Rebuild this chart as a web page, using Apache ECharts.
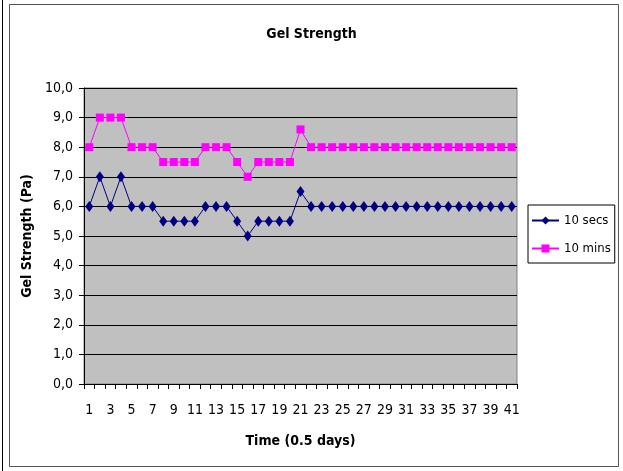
<!DOCTYPE html>
<html>
<head>
<meta charset="utf-8">
<script src="https://cdn.jsdelivr.net/npm/echarts@6/dist/echarts.min.js"></script>
<style>
  html, body { margin: 0; padding: 0; background: #fff; }
  #chart { width: 623px; height: 471px; }
</style>
</head>
<body>
<div id="chart"></div>
<script>
// Sample index (each step = 0.5 days)
const timeSteps = Array.from({ length: 41 }, (_, i) => String(i + 1));

// Gel strength readings (Pa)
const secs10 = [6, 7, 6, 7, 6, 6, 6, 5.5, 5.5, 5.5, 5.5, 6, 6, 6, 5.5, 5, 5.5, 5.5, 5.5, 5.5, 6.5,
  6, 6, 6, 6, 6, 6, 6, 6, 6, 6, 6, 6, 6, 6, 6, 6, 6, 6, 6, 6];
const mins10 = [8, 9, 9, 9, 8, 8, 8, 7.5, 7.5, 7.5, 7.5, 8, 8, 8, 7.5, 7, 7.5, 7.5, 7.5, 7.5, 8.6,
  8, 8, 8, 8, 8, 8, 8, 8, 8, 8, 8, 8, 8, 8, 8, 8, 8, 8, 8, 8];

const font = '"DejaVu Sans Condensed", "Liberation Sans Narrow", Arial, sans-serif';
const boldFont = '"DejaVu Sans Condensed", "Liberation Sans", Arial, sans-serif';

const chart = echarts.init(document.getElementById('chart'), null, { renderer: 'canvas' });
chart.setOption({
  backgroundColor: '#ffffff',
  animation: false,
  title: {
    text: 'Gel Strength',
    left: 'center',
    top: 22,
    textStyle: { fontFamily: boldFont, fontSize: 14, fontWeight: 'bold', color: '#000' }
  },
  graphic: [
    { type: 'rect', shape: { x: 9.5, y: 4.5, width: 609, height: 462 }, style: { fill: 'none', stroke: '#555', lineWidth: 1 }, silent: true },
    { type: 'line', shape: { x1: 2.5, y1: 0, x2: 2.5, y2: 471 }, style: { stroke: '#000', lineWidth: 1 }, silent: true }
  ],
  legend: {
    orient: 'vertical',
    left: 528,
    top: 205,
    itemWidth: 27,
    itemHeight: 10,
    itemGap: 15,
    padding: [9, 4, 8, 3],
    backgroundColor: '#fff',
    borderColor: '#000',
    borderWidth: 1,
    borderRadius: 0,
    textStyle: { fontFamily: font, fontSize: 13, color: '#000' },
    data: ['10 secs', '10 mins']
  },
  grid: { left: 84, top: 88, width: 433, height: 296, containLabel: false, show: true, backgroundColor: '#c0c0c0', borderColor: '#808080', borderWidth: 1 },
  xAxis: {
    type: 'category',
    data: timeSteps,
    boundaryGap: true,
    name: 'Time (0.5 days)',
    nameLocation: 'middle',
    nameGap: 50,
    nameTextStyle: { fontFamily: boldFont, fontSize: 14, fontWeight: 'bold', color: '#000' },
    axisLine: { lineStyle: { color: '#000', width: 1 } },
    axisTick: { show: true, alignWithLabel: false, interval: 0, length: 5, lineStyle: { color: '#000' } },
    axisLabel: { interval: 1, fontFamily: font, fontSize: 14, color: '#000', margin: 19 },
    splitLine: { show: false }
  },
  yAxis: {
    type: 'value',
    min: 0,
    max: 10,
    interval: 1,
    name: 'Gel Strength (Pa)',
    nameLocation: 'middle',
    nameGap: 46,
    nameTextStyle: { fontFamily: boldFont, fontSize: 14, fontWeight: 'bold', color: '#000' },
    axisLine: { show: true, lineStyle: { color: '#000', width: 1 } },
    axisTick: { show: true, length: 5, lineStyle: { color: '#000' } },
    axisLabel: {
      fontFamily: font, fontSize: 14, color: '#000', margin: 11,
      formatter: v => v.toFixed(1).replace('.', ',')
    },
    splitLine: { show: true, lineStyle: { color: '#000', width: 1 } }
  },
  series: [
    {
      name: '10 secs',
      type: 'line',
      data: secs10,
      symbol: 'diamond',
      symbolSize: [8, 11],
      showAllSymbol: true,
      itemStyle: { color: '#000080' },
      lineStyle: { color: '#000080', width: 1 }
    },
    {
      name: '10 mins',
      type: 'line',
      data: mins10,
      symbol: 'rect',
      symbolSize: 8,
      showAllSymbol: true,
      itemStyle: { color: '#ff00ff' },
      lineStyle: { color: '#ff00ff', width: 1 }
    }
  ]
});
</script>
</body>
</html>
